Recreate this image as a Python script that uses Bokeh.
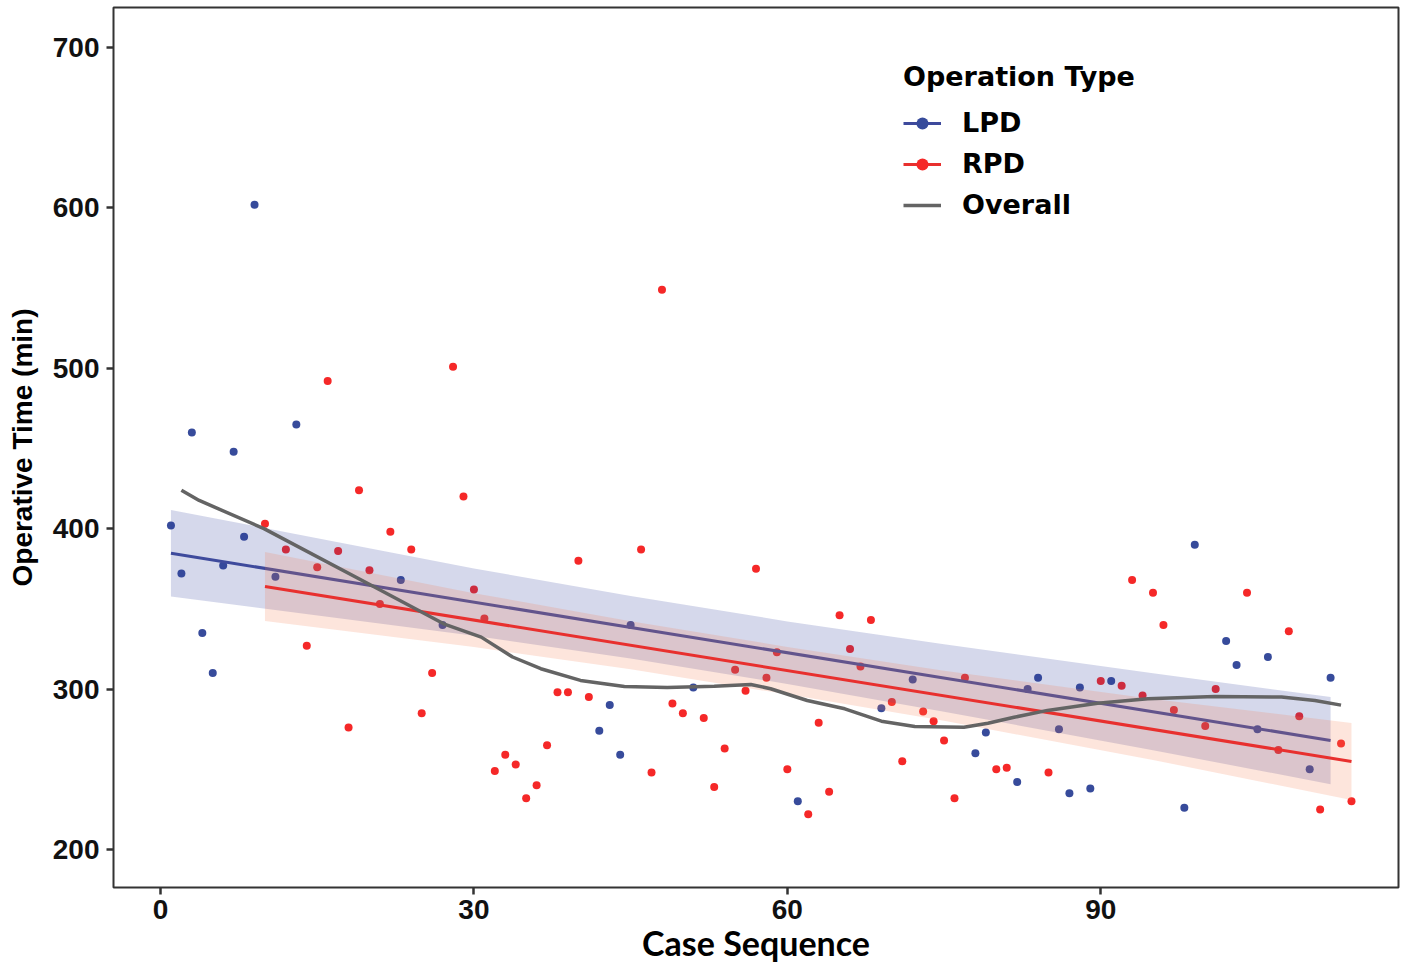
from bokeh.plotting import figure
from bokeh.models import Range1d, FixedTicker, Legend, LegendItem
from bokeh.embed import file_html
from bokeh.resources import INLINE

# ---- data ----
lpd_x = [1, 2, 3, 4, 5, 6, 7, 8, 9, 11, 13, 23, 27, 42, 43, 44, 45, 51, 61, 69,
         72, 78, 79, 82, 83, 84, 86, 87, 88, 89, 91, 98, 99, 102, 103, 105, 106, 110, 112]
lpd_y = [402, 372, 460, 335, 310, 377, 448, 395, 602, 370, 465, 368, 340, 274, 290, 259, 340, 301, 230, 288,
         306, 260, 273, 242, 300, 307, 275, 235, 301, 238, 305, 226, 390, 330, 315, 275, 320, 250, 307]

rpd_x = [10, 12, 14, 15, 16, 17, 18, 19, 20, 21, 22, 24, 25, 26, 28, 29, 30, 31, 32, 33,
         34, 35, 36, 37, 38, 39, 40, 41, 46, 47, 48, 49, 50, 52, 53, 54, 55, 56, 57, 58,
         59, 60, 62, 63, 64, 65, 66, 67, 68, 70, 71, 73, 74, 75, 76, 77, 80, 81, 85, 90,
         92, 93, 94, 95, 96, 97, 100, 101, 104, 107, 108, 109, 111, 113, 114]
rpd_y = [403, 387, 327, 376, 492, 386, 276, 424, 374, 353, 398, 387, 285, 310, 501, 420, 362, 344, 249, 259,
         253, 232, 240, 265, 298, 298, 380, 295, 387, 248, 549, 291, 285, 282, 239, 263, 312, 299, 375, 307,
         323, 250, 222, 279, 236, 346, 325, 314, 343, 292, 255, 286, 280, 268, 232, 307, 250, 251, 248, 305,
         302, 368, 296, 360, 340, 287, 277, 300, 360, 262, 336, 283, 225, 266, 230]

# linear fits and confidence bands
lpd_fit_x = [1, 112]
lpd_fit_y = [384.7, 268.0]
lpd_band_x = [1, 30, 45, 60, 75, 95, 112]
lpd_band_upper = [411.7, 375.2, 358.0, 342.2, 327.9, 309.9, 295.0]
lpd_band_lower = [357.7, 333.2, 319.0, 303.2, 285.9, 261.9, 240.7]

rpd_fit_x = [10, 114]
rpd_fit_y = [364.0, 254.9]
rpd_band_x = [10, 30, 45, 60, 75, 95, 114]
rpd_band_upper = [385.5, 359.8, 342.3, 326.3, 311.4, 293.8, 278.9]
rpd_band_lower = [342.5, 326.2, 312.3, 296.7, 280.2, 255.8, 230.9]

# overall smooth curve
ov_x = [2, 3.7, 9.9, 20.8, 27.1, 30.7, 33.7, 36.4, 40.2, 44.4, 48.5, 53, 56.5, 58.4,
        61.9, 65.5, 69, 72.2, 76.9, 79.2, 81.7, 84.9, 89.7, 94.5, 100.9, 107.3, 110.5, 113]
ov_y = [424, 417.6, 400, 362.5, 340.7, 332.4, 320, 312.7, 305.4, 301.6, 301, 301.8, 302.9, 300.2,
        292.9, 287.7, 280, 276.7, 276.2, 278.7, 282.4, 286.7, 291.2, 294, 295.4, 295, 292.9, 290]

x_ticks = [0, 30, 60, 90]
y_ticks = [200, 300, 400, 500, 600, 700]

BLUE_PT = "#374B9B"
RED_PT = "#F52828"
BLUE_LN = "#3E4A9C"
RED_LN = "#E8302E"
GRAY = "#646464"

p = figure(width=1412, height=968,
           x_range=Range1d(-4.5, 118.5), y_range=Range1d(176.3, 724.9),
           output_backend="svg", toolbar_location=None,
           min_border_left=113, min_border_right=14, min_border_top=7, min_border_bottom=81)
p.background_fill_color = "white"
p.border_fill_color = "white"
p.xgrid.visible = False
p.ygrid.visible = False
p.outline_line_color = "#333333"
p.outline_line_width = 2

# points
lpd_pts = p.scatter(lpd_x, lpd_y, size=8, color=BLUE_PT, line_color=None)
rpd_pts = p.scatter(rpd_x, rpd_y, size=8, color=RED_PT, line_color=None)

# LPD band + line
p.varea(x=lpd_band_x, y1=lpd_band_lower, y2=lpd_band_upper, fill_color="#2D3C9B", fill_alpha=0.2)
lpd_line = p.line(lpd_fit_x, lpd_fit_y, line_color=BLUE_LN, line_width=3)
# RPD band + line
p.varea(x=rpd_band_x, y1=rpd_band_lower, y2=rpd_band_upper, fill_color="#F57D50", fill_alpha=0.2)
rpd_line = p.line(rpd_fit_x, rpd_fit_y, line_color=RED_LN, line_width=3)
# Overall
ov_line = p.line(ov_x, ov_y, line_color=GRAY, line_width=3.5)

# axes
p.xaxis.ticker = FixedTicker(ticks=x_ticks)
p.yaxis.ticker = FixedTicker(ticks=y_ticks)
for ax in (p.xaxis[0], p.yaxis[0]):
    ax.axis_line_color = None
    ax.major_tick_line_color = "#333333"
    ax.major_tick_line_width = 2.5
    ax.major_tick_out = 7
    ax.major_tick_in = 0
    ax.minor_tick_line_color = None
    ax.major_label_text_font = "Liberation Sans"
    ax.major_label_text_font_style = "bold"
    ax.major_label_text_font_size = "28px"
    ax.major_label_text_color = "#111111"
    ax.major_label_standoff = 7

p.xaxis.major_label_standoff = 5
p.xaxis.axis_label = "Case Sequence"
p.xaxis.axis_label_text_font = "Lato"
p.xaxis.axis_label_text_font_style = "bold"
p.xaxis.axis_label_text_font_size = "34px"
p.xaxis.axis_label_text_color = "#000000"
p.xaxis.axis_label_standoff = 0

p.yaxis.axis_label = "Operative Time (min)"
p.yaxis.axis_label_text_font = "Liberation Sans"
p.yaxis.axis_label_text_font_style = "bold"
p.yaxis.axis_label_text_font_size = "28px"
p.yaxis.axis_label_text_color = "#000000"
p.yaxis.axis_label_standoff = 12

legend = Legend(items=[
    LegendItem(label="LPD", renderers=[lpd_line, lpd_pts]),
    LegendItem(label="RPD", renderers=[rpd_line, rpd_pts]),
    LegendItem(label="Overall", renderers=[ov_line]),
], location=(790, 667), title="Operation Type")
legend.title_text_font = "DejaVu Sans"
legend.title_text_font_style = "bold"
legend.title_text_font_size = "27px"
legend.title_text_color = "#000000"
legend.label_text_font = "DejaVu Sans"
legend.label_text_font_style = "bold"
legend.label_text_font_size = "27px"
legend.label_text_color = "#000000"
legend.background_fill_alpha = 0
legend.border_line_color = None
legend.glyph_width = 38
legend.glyph_height = 30
legend.label_height = 30
legend.label_standoff = 21
legend.spacing = 10
legend.padding = 0
legend.margin = 0
legend.title_standoff = 15
p.add_layout(legend)

open("out.html", "w").write(file_html(p, INLINE))
